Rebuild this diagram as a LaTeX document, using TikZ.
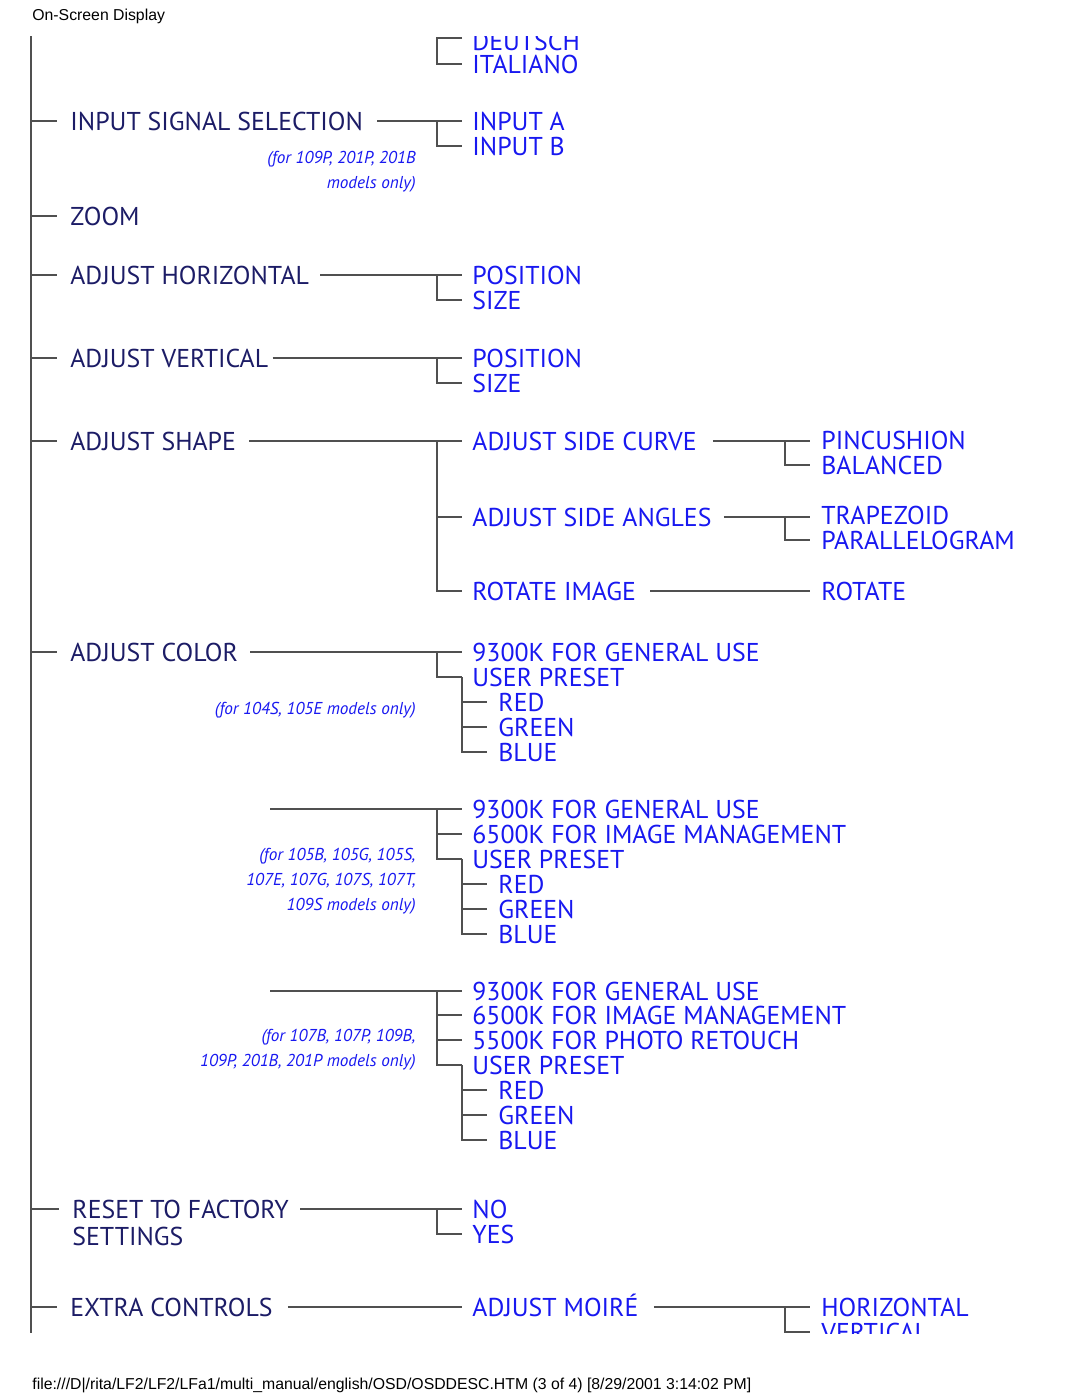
\documentclass[tikz,border=0pt]{standalone}
\usepackage{fontspec}
\usetikzlibrary{calc}
\newfontfamily\menufont{PT Sans}
\newfontfamily\webfont{Liberation Sans}
\definecolor{navy}{RGB}{28,28,102}
\definecolor{osdblue}{RGB}{24,24,240}
\definecolor{linegray}{RGB}{80,80,80}
\begin{document}
\begin{tikzpicture}[x=0.5pt, y=-0.5pt,
        item/.style={anchor=west, inner sep=0pt, text height=9pt, text depth=0pt, text=navy, font=\menufont\fontsize{12.9}{14}\selectfont},
        opt/.style={item, text=osdblue},
        note/.style={anchor=north east, inner sep=0pt, align=right, text=osdblue, font=\menufont\itshape\fontsize{8.6}{12.5}\selectfont},
        web/.style={anchor=west, inner sep=0pt, font=\webfont\fontsize{7.9}{9}\selectfont},
        link/.style={draw=linegray, line width=1pt}
    ]
    \useasboundingbox (0,0) rectangle (1080,1397);
    \node[web] (hdr) at (32,16) {On-Screen Display};
    \node[web] (ftr) at (32,1385) {file:///D|/rita/LF2/LF2/LFa1/multi\_manual/english/OSD/OSDDESC.HTM (3 of 4) [8/29/2001 3:14:02 PM]};

    \begin{scope}
        \clip (0,36) rectangle (1080,1333);
        \coordinate (top) at (31,36);
        \coordinate (bot) at (31,1333);

        % language (cut at top)
        \node[opt] (deu) at (472,41) {DEUTSCH};
        \node[opt] (ita) at (472,64) {ITALIANO};
        \draw[link] ($(deu.west)+(-10,-3)$) -| ($(ita.west)+(-35,0)$) -- ($(ita.west)+(-10,0)$);

        % input signal
        \node[item] (iss) at (70,121) {INPUT SIGNAL SELECTION};
        \node[opt] (ina) at (472,121) {INPUT A};
        \node[opt] (inb) at (472,146) {INPUT B};
        \node[note] (nis) at (416,151) {(for 109P, 201P, 201B\\models only)};
        \draw[link] ($(iss.east)+(14,0)$) -- ($(ina.west)+(-10,0)$);
        \draw[link] ($(ina.west)+(-35,0)$) |- ($(inb.west)+(-10,0)$);

        % zoom
        \node[item] (zoom) at (70,216) {ZOOM};

        % horizontal
        \node[item] (ahz) at (70,275) {ADJUST HORIZONTAL};
        \node[opt] (hpos) at (472,275) {POSITION};
        \node[opt] (hsize) at (472,300) {SIZE};
        \draw[link] ($(ahz.east)+(11,0)$) -- ($(hpos.west)+(-10,0)$);
        \draw[link] ($(hpos.west)+(-35,0)$) |- ($(hsize.west)+(-10,0)$);

        % vertical
        \node[item] (avt) at (70,358) {ADJUST VERTICAL};
        \node[opt] (vpos) at (472,358) {POSITION};
        \node[opt] (vsize) at (472,383) {SIZE};
        \draw[link] ($(avt.east)+(4,0)$) -- ($(vpos.west)+(-10,0)$);
        \draw[link] ($(vpos.west)+(-35,0)$) |- ($(vsize.west)+(-10,0)$);

        % shape
        \node[item] (ash) at (70,441) {ADJUST SHAPE};
        \node[opt] (asc) at (472,441) {ADJUST SIDE CURVE};
        \node[opt] (pin) at (821,440) {PINCUSHION};
        \node[opt] (bal) at (821,465) {BALANCED};
        \node[opt] (asa) at (472,517) {ADJUST SIDE ANGLES};
        \node[opt] (trp) at (821,515) {TRAPEZOID};
        \node[opt] (par) at (821,540) {PARALLELOGRAM};
        \node[opt] (rti) at (472,591) {ROTATE IMAGE};
        \node[opt] (rot) at (821,591) {ROTATE};
        \draw[link] ($(ash.east)+(13,0)$) -- ($(asc.west)+(-10,0)$);
        \draw[link] ($(asc.west)+(-35,0)$) |- ($(rti.west)+(-10,0)$);
        \draw[link] ($(asa.west)+(-35,0)$) -- ($(asa.west)+(-10,0)$);
        \draw[link] ($(asc.east)+(16,0)$) -- ($(pin.west |- asc.east)+(-11,0)$);
        \draw[link] ($(pin.west)+(-36,1)$) |- ($(bal.west)+(-11,0)$);
        \draw[link] ($(asa.east)+(12,0)$) -- ($(trp.west |- asa.east)+(-11,0)$);
        \draw[link] ($(trp.west)+(-36,2)$) |- ($(par.west)+(-11,0)$);
        \draw[link] ($(rti.east)+(14,0)$) -- ($(rot.west)+(-11,0)$);

        % color, first set
        \node[item] (acol) at (70,652) {ADJUST COLOR};
        \node[opt] (ca1) at (472,652) {9300K FOR GENERAL USE};
        \node[opt] (ca2) at (472,677) {USER PRESET};
        \node[opt] (ca3) at (498,702) {RED};
        \node[opt] (ca4) at (498,727) {GREEN};
        \node[opt] (ca5) at (498,752) {BLUE};
        \node[note] (nca) at (416,702) {(for 104S, 105E models only)};
        \draw[link] ($(acol.east)+(12,0)$) -- ($(ca1.west)+(-10,0)$);
        \draw[link] ($(ca1.west)+(-35,0)$) |- ($(ca2.west)+(-10,0)$);
        \draw[link] ($(ca2.west)+(-10,0)$) |- ($(ca5.west)+(-11,0)$);
        \foreach \n in {ca3,ca4}
            \draw[link] ($(\n.west)+(-36,0)$) -- ($(\n.west)+(-11,0)$);

        % color, second set
        \coordinate (cb0) at (270,809);
        \node[opt] (cb1) at (472,809) {9300K FOR GENERAL USE};
        \node[opt] (cb2) at (472,834) {6500K FOR IMAGE MANAGEMENT};
        \node[opt] (cb3) at (472,859) {USER PRESET};
        \node[opt] (cb4) at (498,884) {RED};
        \node[opt] (cb5) at (498,909) {GREEN};
        \node[opt] (cb6) at (498,934) {BLUE};
        \node[note] (ncb) at (416,848) {(for 105B, 105G, 105S,\\107E, 107G, 107S, 107T,\\109S models only)};
        \draw[link] (cb0) -- ($(cb1.west)+(-10,0)$);
        \draw[link] ($(cb1.west)+(-35,0)$) |- ($(cb3.west)+(-10,0)$);
        \draw[link] ($(cb2.west)+(-35,0)$) -- ($(cb2.west)+(-10,0)$);
        \draw[link] ($(cb3.west)+(-10,0)$) |- ($(cb6.west)+(-11,0)$);
        \foreach \n in {cb4,cb5}
            \draw[link] ($(\n.west)+(-36,0)$) -- ($(\n.west)+(-11,0)$);

        % color, third set
        \coordinate (cc0) at (270,991);
        \node[opt] (cc1) at (472,991) {9300K FOR GENERAL USE};
        \node[opt] (cc2) at (472,1015) {6500K FOR IMAGE MANAGEMENT};
        \node[opt] (cc3) at (472,1040) {5500K FOR PHOTO RETOUCH};
        \node[opt] (cc4) at (472,1065) {USER PRESET};
        \node[opt] (cc5) at (498,1090) {RED};
        \node[opt] (cc6) at (498,1115) {GREEN};
        \node[opt] (cc7) at (498,1140) {BLUE};
        \node[note] (ncc) at (416,1029) {(for 107B, 107P, 109B,\\109P, 201B, 201P models only)};
        \draw[link] (cc0) -- ($(cc1.west)+(-10,0)$);
        \draw[link] ($(cc1.west)+(-35,0)$) |- ($(cc4.west)+(-10,0)$);
        \foreach \n in {cc2,cc3}
            \draw[link] ($(\n.west)+(-35,0)$) -- ($(\n.west)+(-10,0)$);
        \draw[link] ($(cc4.west)+(-10,0)$) |- ($(cc7.west)+(-11,0)$);
        \foreach \n in {cc5,cc6}
            \draw[link] ($(\n.west)+(-36,0)$) -- ($(\n.west)+(-11,0)$);

        % reset
        \node[item] (rsa) at (72,1209) {RESET TO FACTORY};
        \node[item] (rsb) at (72,1236) {SETTINGS};
        \node[opt] (rno) at (472,1209) {NO};
        \node[opt] (ryes) at (472,1234) {YES};
        \draw[link] ($(rsa.east)+(11,0)$) -- ($(rno.west)+(-10,0)$);
        \draw[link] ($(rno.west)+(-35,0)$) |- ($(ryes.west)+(-10,0)$);

        % extra controls (cut at bottom)
        \node[item] (xtr) at (70,1307) {EXTRA CONTROLS};
        \node[opt] (moi) at (472,1307) {ADJUST MOIRÉ};
        \node[opt] (mhz) at (821,1307) {HORIZONTAL};
        \node[opt] (mvt) at (821,1332) {VERTICAL};
        \draw[link] ($(xtr.east)+(15,0)$) -- ($(moi.west)+(-10,0)$);
        \draw[link] ($(moi.east)+(15,0)$) -- ($(mhz.west)+(-11,0)$);
        \draw[link] ($(mhz.west)+(-36,0)$) |- ($(mvt.west)+(-11,0)$);

        % main spine
        \draw[link] (top) -- (bot);
        \foreach \n in {iss,zoom,ahz,avt,ash,acol,rsa,xtr}
            \draw[link] (top |- \n.west) -- ($(\n.west)+(-13,0)$);
    \end{scope}
\end{tikzpicture}
\end{document}
